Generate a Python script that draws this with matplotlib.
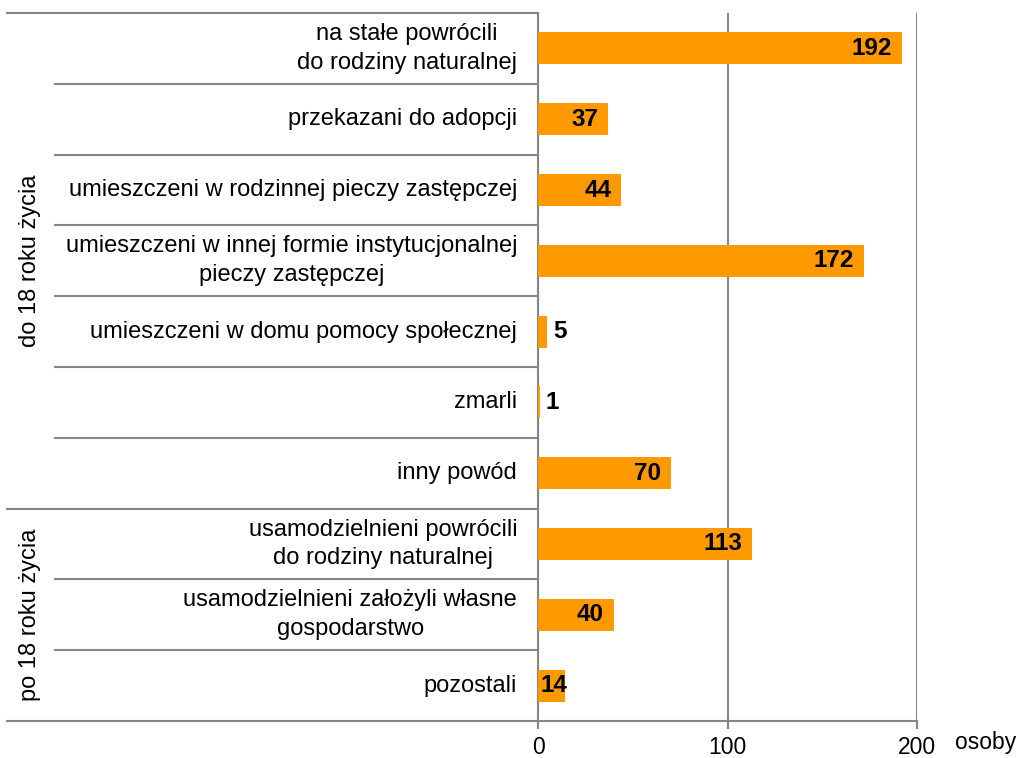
import matplotlib
matplotlib.use("Agg")
import matplotlib.pyplot as plt
import matplotlib.transforms as mtransforms

plt.rcParams['font.family'] = ['Liberation Sans', 'DejaVu Sans']

# data
categories = [
    "na stałe powrócili\ndo rodziny naturalnej",
    "przekazani do adopcji",
    "umieszczeni w rodzinnej pieczy zastępczej",
    "umieszczeni w innej formie instytucjonalnej\npieczy zastępczej",
    "umieszczeni w domu pomocy społecznej",
    "zmarli",
    "inny powód",
    "usamodzielnieni powrócili\ndo rodziny naturalnej",
    "usamodzielnieni założyli własne\ngospodarstwo",
    "pozostali",
]
values = [192, 37, 44, 172, 5, 1, 70, 113, 40, 14]
groups = ["do 18 roku życia", "po 18 roku życia"]
group_sizes = [7, 3]
xticks = [0, 100, 200]
unit = "osoby"

bar_color = "#FF9900"
line_color = "#868686"
fs_cat = 17
fs_val = 17.5
fs_tick = 16.5

fig = plt.figure(figsize=(10.22, 7.58), dpi=100)
ax = fig.add_axes([538/1022, 1-721/758, 379/1022, 708/758])

y = list(range(len(categories)))
ax.barh(y, values, height=0.45, color=bar_color, zorder=3)
ax.set_ylim(len(categories)-0.5, -0.5)
ax.set_xlim(0, 200)

# value labels (inside end, or outside when bar is tiny)
for yi, v in zip(y, values):
    if v >= 20:
        ax.annotate(str(v), (v, yi), xytext=(-7, 0), textcoords="offset points",
                    ha="right", va="center", fontsize=fs_val, fontweight="bold", zorder=4)
    elif v >= 10:
        ax.annotate(str(v), (0, yi), xytext=(2, 0), textcoords="offset points",
                    ha="left", va="center", fontsize=fs_val, fontweight="bold", zorder=4)
    else:
        ax.annotate(str(v), (v, yi), xytext=(4, 0), textcoords="offset points",
                    ha="left", va="center", fontsize=fs_val, fontweight="bold", zorder=4)

# category labels
blend = mtransforms.blended_transform_factory(ax.transAxes, ax.transData)
ax.set_yticks([])
for yi, c in zip(y, categories):
    ax.text(-0.055, yi, c, transform=blend, ha="right", va="center",
            fontsize=fs_cat, multialignment="center", linespacing=1.4)

# separators
bounds = [-0.5]
acc = 0
for g in group_sizes:
    acc += g
    bounds.append(acc - 0.5)
for b in range(len(categories) + 1):
    yb = b - 0.5
    x0 = -1.401 if yb in bounds else -1.274
    ax.plot([x0, 0], [yb, yb], transform=blend, color=line_color, lw=1.5,
            clip_on=False, zorder=5)

# group labels
start = 0
for g, n in zip(groups, group_sizes):
    mid = start + n/2 - 0.5
    ax.text(-1.34, mid, g, transform=blend, rotation=90, ha="center",
            va="center", fontsize=fs_cat)
    start += n

# axes styling
for s in ["top", "right"]:
    ax.spines[s].set_visible(False)
for s in ["left", "bottom"]:
    ax.spines[s].set_color(line_color)
    ax.spines[s].set_linewidth(1.5)
ax.set_xticks(xticks)
ax.tick_params(axis="x", length=6, width=1.5, color=line_color, labelsize=fs_tick, pad=5)
ax.xaxis.grid(True, color=line_color, lw=1.5, zorder=1)
ax.set_axisbelow(True)

fig.text(955/1022, 1-743/758, unit, fontsize=fs_tick, ha="left", va="center")

fig.savefig("out.png", dpi=100)
